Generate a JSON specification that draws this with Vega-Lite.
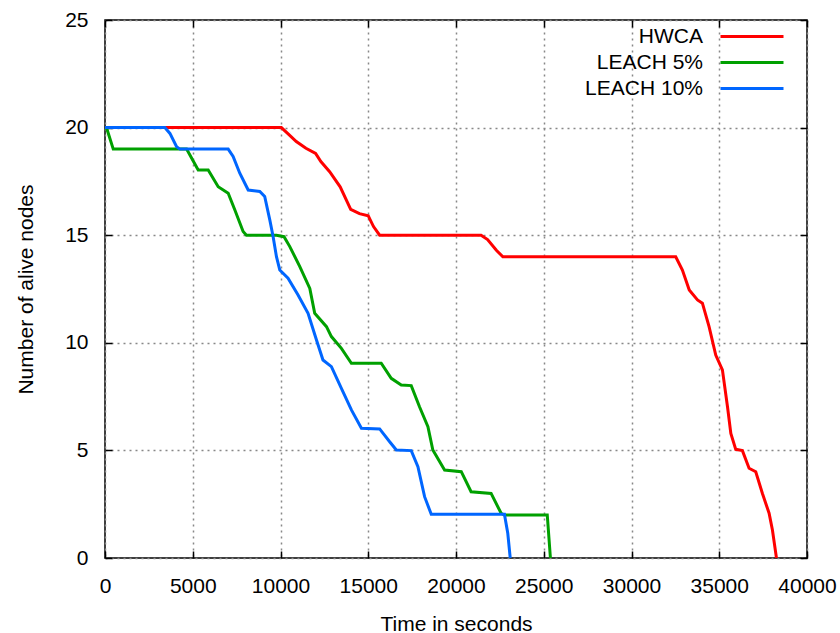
{
  "$schema": "https://vega.github.io/schema/vega-lite/v6.json",
  "width": 702,
  "height": 538,
  "autosize": "none",
  "padding": {"left": 105, "top": 20, "right": 33, "bottom": 75},
  "background": "white",
  "config": {
    "font": "Liberation Sans",
    "view": {"stroke": "black", "strokeWidth": 1.5},
    "axis": {
      "labelFont": "Liberation Sans",
      "labelFontSize": 21,
      "labelColor": "black",
      "labelFlush": false,
      "labelOverlap": false,
      "titleFont": "Liberation Sans",
      "titleFontSize": 21,
      "titleFontWeight": "normal",
      "titleColor": "black",
      "domain": false,
      "tickColor": "black",
      "tickWidth": 1.5,
      "tickSize": -7,
      "grid": false
    }
  },
  "data": {
    "values": [
      {"series": "HWCA", "t": 0, "n": 20},
      {"series": "HWCA", "t": 10050, "n": 20},
      {"series": "HWCA", "t": 10450, "n": 19.7},
      {"series": "HWCA", "t": 10900, "n": 19.35},
      {"series": "HWCA", "t": 11450, "n": 19.04},
      {"series": "HWCA", "t": 12000, "n": 18.8},
      {"series": "HWCA", "t": 12300, "n": 18.42},
      {"series": "HWCA", "t": 12800, "n": 17.95},
      {"series": "HWCA", "t": 13400, "n": 17.25},
      {"series": "HWCA", "t": 14000, "n": 16.2},
      {"series": "HWCA", "t": 14500, "n": 16.0},
      {"series": "HWCA", "t": 15000, "n": 15.9},
      {"series": "HWCA", "t": 15300, "n": 15.4},
      {"series": "HWCA", "t": 15650, "n": 15.0},
      {"series": "HWCA", "t": 21430, "n": 15.0},
      {"series": "HWCA", "t": 21800, "n": 14.8},
      {"series": "HWCA", "t": 22300, "n": 14.3},
      {"series": "HWCA", "t": 22670, "n": 14.0},
      {"series": "HWCA", "t": 32520, "n": 14.0},
      {"series": "HWCA", "t": 32900, "n": 13.38},
      {"series": "HWCA", "t": 33290, "n": 12.45},
      {"series": "HWCA", "t": 33760, "n": 11.99},
      {"series": "HWCA", "t": 34040, "n": 11.84},
      {"series": "HWCA", "t": 34420, "n": 10.75},
      {"series": "HWCA", "t": 34800, "n": 9.43},
      {"series": "HWCA", "t": 35180, "n": 8.74},
      {"series": "HWCA", "t": 35470, "n": 7.03},
      {"series": "HWCA", "t": 35660, "n": 5.79},
      {"series": "HWCA", "t": 35940, "n": 5.05},
      {"series": "HWCA", "t": 36320, "n": 4.99},
      {"series": "HWCA", "t": 36700, "n": 4.17},
      {"series": "HWCA", "t": 37080, "n": 4.01},
      {"series": "HWCA", "t": 37460, "n": 3.0},
      {"series": "HWCA", "t": 37840, "n": 2.08},
      {"series": "HWCA", "t": 38030, "n": 1.3},
      {"series": "HWCA", "t": 38260, "n": 0},
      {"series": "LEACH 5%", "t": 0, "n": 20},
      {"series": "LEACH 5%", "t": 95, "n": 19.97},
      {"series": "LEACH 5%", "t": 470, "n": 19.0},
      {"series": "LEACH 5%", "t": 4650, "n": 19.0},
      {"series": "LEACH 5%", "t": 5310, "n": 18.03},
      {"series": "LEACH 5%", "t": 5880, "n": 18.03},
      {"series": "LEACH 5%", "t": 6450, "n": 17.25},
      {"series": "LEACH 5%", "t": 7020, "n": 16.95},
      {"series": "LEACH 5%", "t": 7400, "n": 16.17},
      {"series": "LEACH 5%", "t": 7870, "n": 15.17},
      {"series": "LEACH 5%", "t": 8060, "n": 15.0},
      {"series": "LEACH 5%", "t": 9770, "n": 15.0},
      {"series": "LEACH 5%", "t": 10200, "n": 14.93},
      {"series": "LEACH 5%", "t": 10530, "n": 14.47},
      {"series": "LEACH 5%", "t": 11100, "n": 13.54},
      {"series": "LEACH 5%", "t": 11670, "n": 12.53},
      {"series": "LEACH 5%", "t": 11950, "n": 11.37},
      {"series": "LEACH 5%", "t": 12620, "n": 10.75},
      {"series": "LEACH 5%", "t": 12900, "n": 10.29},
      {"series": "LEACH 5%", "t": 13470, "n": 9.74},
      {"series": "LEACH 5%", "t": 14040, "n": 9.05},
      {"series": "LEACH 5%", "t": 15740, "n": 9.05},
      {"series": "LEACH 5%", "t": 16310, "n": 8.35},
      {"series": "LEACH 5%", "t": 16880, "n": 8.04},
      {"series": "LEACH 5%", "t": 17450, "n": 8.01},
      {"series": "LEACH 5%", "t": 17920, "n": 7.03},
      {"series": "LEACH 5%", "t": 18400, "n": 6.1},
      {"series": "LEACH 5%", "t": 18680, "n": 5.02},
      {"series": "LEACH 5%", "t": 19350, "n": 4.09},
      {"series": "LEACH 5%", "t": 20300, "n": 4.01},
      {"series": "LEACH 5%", "t": 20860, "n": 3.08},
      {"series": "LEACH 5%", "t": 22000, "n": 3.0},
      {"series": "LEACH 5%", "t": 22570, "n": 2.08},
      {"series": "LEACH 5%", "t": 22760, "n": 2.0},
      {"series": "LEACH 5%", "t": 25200, "n": 2.0},
      {"series": "LEACH 5%", "t": 25380, "n": 0},
      {"series": "LEACH 10%", "t": 0, "n": 20},
      {"series": "LEACH 10%", "t": 3410, "n": 20},
      {"series": "LEACH 10%", "t": 3700, "n": 19.73},
      {"series": "LEACH 10%", "t": 4080, "n": 19.11},
      {"series": "LEACH 10%", "t": 4270, "n": 19.0},
      {"series": "LEACH 10%", "t": 7020, "n": 19.0},
      {"series": "LEACH 10%", "t": 7300, "n": 18.66},
      {"series": "LEACH 10%", "t": 7680, "n": 17.88},
      {"series": "LEACH 10%", "t": 8160, "n": 17.1},
      {"series": "LEACH 10%", "t": 8820, "n": 17.03},
      {"series": "LEACH 10%", "t": 9100, "n": 16.8},
      {"series": "LEACH 10%", "t": 9390, "n": 15.71},
      {"series": "LEACH 10%", "t": 9580, "n": 14.93},
      {"series": "LEACH 10%", "t": 9770, "n": 14.0},
      {"series": "LEACH 10%", "t": 9960, "n": 13.38},
      {"series": "LEACH 10%", "t": 10430, "n": 13.0},
      {"series": "LEACH 10%", "t": 11000, "n": 12.22},
      {"series": "LEACH 10%", "t": 11570, "n": 11.37},
      {"series": "LEACH 10%", "t": 12050, "n": 10.13},
      {"series": "LEACH 10%", "t": 12420, "n": 9.2},
      {"series": "LEACH 10%", "t": 12900, "n": 8.89},
      {"series": "LEACH 10%", "t": 13470, "n": 7.88},
      {"series": "LEACH 10%", "t": 14040, "n": 6.88},
      {"series": "LEACH 10%", "t": 14610, "n": 6.03},
      {"series": "LEACH 10%", "t": 15650, "n": 6.0},
      {"series": "LEACH 10%", "t": 16220, "n": 5.4},
      {"series": "LEACH 10%", "t": 16600, "n": 5.02},
      {"series": "LEACH 10%", "t": 17450, "n": 4.99},
      {"series": "LEACH 10%", "t": 17830, "n": 4.24},
      {"series": "LEACH 10%", "t": 18210, "n": 2.85},
      {"series": "LEACH 10%", "t": 18590, "n": 2.03},
      {"series": "LEACH 10%", "t": 22760, "n": 2.03},
      {"series": "LEACH 10%", "t": 22950, "n": 1.15},
      {"series": "LEACH 10%", "t": 23090, "n": 0}
    ]
  },
  "layer": [
    {
      "mark": {"type": "line", "strokeWidth": 3},
      "encoding": {
        "x": {
          "field": "t", "type": "quantitative",
          "scale": {"domain": [0, 40000], "nice": false},
          "axis": {
            "orient": "bottom",
            "values": [0, 5000, 10000, 15000, 20000, 25000, 30000, 35000, 40000],
            "format": "d",
            "grid": true, "gridColor": "#888888", "gridDash": [2, 4], "gridWidth": 1.5,
            "labelPadding": 24,
            "title": "Time in seconds",
            "titlePadding": 17
          }
        },
        "y": {
          "field": "n", "type": "quantitative",
          "scale": {"domain": [0, 25], "nice": false},
          "axis": {
            "orient": "left",
            "values": [0, 5, 10, 15, 20, 25],
            "grid": true, "gridColor": "#888888", "gridDash": [2, 4], "gridWidth": 1.5,
            "labelPadding": 24,
            "title": "Number of alive nodes",
            "titlePadding": 28
          }
        },
        "color": {
          "field": "series", "type": "nominal",
          "scale": {"domain": ["HWCA", "LEACH 5%", "LEACH 10%"], "range": ["#ff0000", "#00a000", "#0066ff"]},
          "sort": ["HWCA", "LEACH 5%", "LEACH 10%"],
          "legend": {
            "title": null,
            "orient": "none",
            "legendX": 635,
            "legendY": 4.5,
            "padding": 0,
            "symbolType": "M-3,0H3",
            "symbolSize": 441,
            "symbolStrokeWidth": 3,
            "labelFont": "Liberation Sans",
            "labelFontSize": 21,
            "labelColor": "black",
            "labelAlign": "right",
            "labelOffset": -61,
            "rowPadding": 4
          }
        }
      }
    },
    {
      "mark": {"type": "line", "opacity": 0},
      "encoding": {
        "x": {
          "field": "t", "type": "quantitative",
          "axis": {"orient": "top", "values": [0, 5000, 10000, 15000, 20000, 25000, 30000, 35000, 40000], "labels": false, "title": null}
        },
        "y": {
          "field": "n", "type": "quantitative",
          "axis": {"orient": "right", "values": [0, 5, 10, 15, 20, 25], "labels": false, "title": null}
        },
        "detail": {"field": "series"}
      }
    }
  ],
  "resolve": {"axis": {"x": "independent", "y": "independent"}}
}
